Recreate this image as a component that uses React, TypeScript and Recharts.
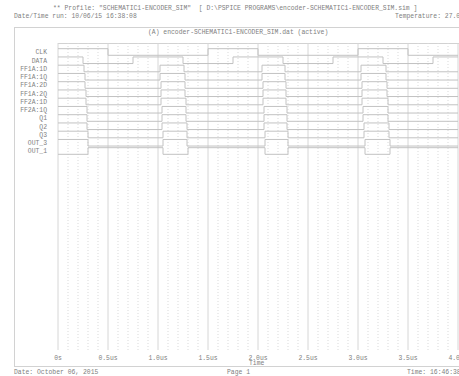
import { LineChart, Line, XAxis, YAxis, CartesianGrid, ReferenceLine } from 'recharts'

// digital traces, top to bottom
const signalNames = [
  'CLK', 'DATA', 'FF1A:1D', 'FF1A:1Q', 'FF1A:2D', 'FF1A:2Q', 'FF2A:1D',
  'FF2A:1Q', 'Q1', 'Q2', 'Q3', 'OUT_3', 'OUT_1',
]

// logic level at t = 0
const startLevels = [1, 1, 1, 1, 1, 1, 1, 1, 1, 1, 1, 1, 0]

// times (us) at which each trace toggles
const edgeTimes = [
  [0.5, 1.5, 2.0, 3.0, 3.5],
  [0.25, 0.75, 1.25, 1.75, 2.25, 2.75, 3.25, 3.75],
  [0.26, 1.02, 1.26, 2.04, 2.27, 3.03, 3.28],
  [0.27, 1.02, 1.27, 2.04, 2.27, 3.03, 3.28],
  [0.27, 1.03, 1.27, 2.05, 2.28, 3.04, 3.29],
  [0.28, 1.03, 1.27, 2.05, 2.28, 3.04, 3.29],
  [0.28, 1.03, 1.28, 2.05, 2.28, 3.04, 3.3],
  [0.29, 1.04, 1.28, 2.06, 2.29, 3.05, 3.3],
  [0.29, 1.04, 1.28, 2.06, 2.29, 3.05, 3.3],
  [0.29, 1.04, 1.29, 2.06, 2.29, 3.06, 3.31],
  [0.3, 1.05, 1.29, 2.07, 2.3, 3.06, 3.31],
  [0.3, 1.05, 1.29, 2.07, 2.3, 3.07, 3.32],
  [0.3, 1.05, 1.3, 2.07, 2.3, 3.07, 3.32],
]

const timeTicks = [0, 0.5, 1.0, 1.5, 2.0, 2.5, 3.0, 3.5, 4.0]
const timeLabels = ['0s', '0.5us', '1.0us', '1.5us', '2.0us', '2.5us', '3.0us', '3.5us', '4.0us']
const minorTicks = [
  0.1, 0.2, 0.3, 0.4, 0.6, 0.7, 0.8, 0.9, 1.1, 1.2, 1.3, 1.4, 1.6, 1.7, 1.8, 1.9,
  2.1, 2.2, 2.3, 2.4, 2.6, 2.7, 2.8, 2.9, 3.1, 3.2, 3.3, 3.4, 3.6, 3.7, 3.8, 3.9,
]
const rowTicks = signalNames.map((_, i) => i)

const mono = '"Liberation Mono", "DejaVu Sans Mono", monospace'
const ink = '#808080'
const trace = '#c2c2c2'

// turn a start level + toggle list into step points for one row
function tracePoints(row: number) {
  const y = (lvl: number) => row + (lvl ? -0.4 : 0.4)
  let lvl = startLevels[row]
  const pts = [{ t: 0, y: y(lvl) }]
  for (const e of edgeTimes[row]) {
    lvl = lvl ? 0 : 1
    pts.push({ t: e, y: y(lvl) })
  }
  pts.push({ t: 4, y: y(lvl) })
  return pts
}

function Txt({ x, y, children }: { x: number; y: number; children: string }) {
  return (
    <div
      style={{
        position: 'absolute',
        left: x,
        top: y - 4,
        fontFamily: mono,
        fontSize: 6.4,
        lineHeight: '8px',
        color: ink,
        whiteSpace: 'pre',
      }}
    >
      {children}
    </div>
  )
}

export default function App() {
  return (
    <div style={{ position: 'fixed', left: 0, top: 0, width: 459, height: 376, overflow: 'hidden', background: '#fff' }}>
      <Txt x={53} y={9}>{'** Profile: "SCHEMATIC1-ENCODER_SIM"  [ D:\\PSPICE PROGRAMS\\encoder-SCHEMATIC1-ENCODER_SIM.sim ]'}</Txt>
      <Txt x={14} y={17}>Date/Time run: 10/06/15 16:38:08</Txt>
      <Txt x={395} y={17}>Temperature: 27.0</Txt>
      <Txt x={148} y={33}>(A) encoder-SCHEMATIC1-ENCODER_SIM.dat (active)</Txt>
      <Txt x={14} y={373}>Date: October 06, 2015</Txt>
      <Txt x={227} y={373}>Page 1</Txt>
      <Txt x={407} y={373}>Time: 16:46:38</Txt>
      <Txt x={249} y={364}>Time</Txt>

      {/* page frame and plot top edge */}
      <div style={{ position: 'absolute', left: 14, top: 27, width: 460, height: 340, border: '1px solid #d2d2d2', boxSizing: 'border-box' }} />
      <div style={{ position: 'absolute', left: 58, top: 43, width: 410, height: 0, borderTop: '1px solid #d2d2d2' }} />

      <div style={{ position: 'absolute', left: 0, top: 0 }}>
        <LineChart width={459} height={376} margin={{ top: 43, right: 1, bottom: 0, left: 0 }}>
          <CartesianGrid horizontal={false} stroke="#d6d6d6" />
          {minorTicks.map((t) => (
            <ReferenceLine key={t} x={t} stroke="#d9d9d9" strokeDasharray="1 2" />
          ))}
          <XAxis
            type="number"
            dataKey="t"
            domain={[0, 4]}
            ticks={timeTicks}
            tickFormatter={(v: number) => timeLabels[timeTicks.indexOf(v)]}
            interval={0}
            height={26}
            tickLine={false}
            axisLine={false}
            tickSize={3}
            tickMargin={2}
            allowDataOverflow
            tick={{ fontSize: 6.4, fontFamily: mono, fill: ink, stroke: 'none' }}
          />
          <YAxis
            type="number"
            domain={[-1.09, 36.12]}
            reversed
            ticks={rowTicks}
            tickFormatter={(v: number) => signalNames[v]}
            interval={0}
            width={58}
            tickLine={false}
            axisLine={false}
            tickSize={9}
            tickMargin={2}
            allowDataOverflow
            tick={{ fontSize: 6.4, fontFamily: mono, fill: ink, stroke: 'none' }}
          />
          {signalNames.map((name, i) => (
            <Line
              key={name}
              data={tracePoints(i)}
              dataKey="y"
              type="stepAfter"
              stroke={trace}
              strokeWidth={1}
              dot={false}
              isAnimationActive={false}
            />
          ))}
        </LineChart>
      </div>
    </div>
  )
}
